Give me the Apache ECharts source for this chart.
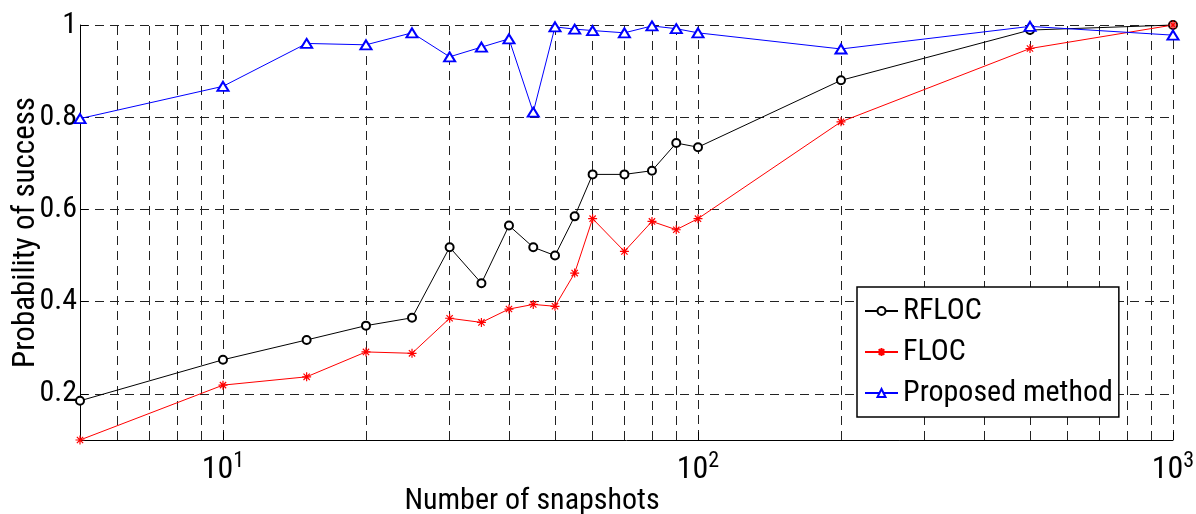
<!DOCTYPE html>
<html>
<head>
<meta charset="utf-8">
<script src="https://cdn.jsdelivr.net/npm/echarts@6/dist/echarts.min.js"></script>
<style>html,body{margin:0;padding:0;background:#fff;}#c{width:1196px;height:514px;}</style>
</head>
<body>
<div id="c"></div>
<script>
const snapshots = [5,10,15,20,25,30,35,40,45,50,55,60,70,80,90,100,200,500,1000];
const rfloc    = [0.185,0.274,0.317,0.348,0.365,0.518,0.440,0.565,0.518,0.500,0.585,0.676,0.676,0.684,0.744,0.735,0.880,0.989,1.0];
const floc     = [0.100,0.219,0.237,0.291,0.288,0.364,0.355,0.384,0.394,0.390,0.462,0.580,0.509,0.574,0.556,0.580,0.790,0.949,1.0];
const proposed = [0.797,0.867,0.960,0.957,0.983,0.931,0.952,0.970,0.811,0.996,0.991,0.988,0.983,0.998,0.992,0.983,0.948,0.997,0.978];
const xMajorTicks = [10,100,1000];
const xMinorGrid = [6,7,8,9,20,30,40,50,60,70,80,90,200,300,400,500,600,700,800,900];
const yTicks = [0.2,0.4,0.6,0.8,1];

const FONT = '"Roboto Condensed", "Open Sans Condensed", "Liberation Sans", Arial, sans-serif';
const gridDash = {color:'#222', width:1, type:[9,6]};
const asterisk = 'path://M0,-5L0,5M-5,0L5,0M-3.5,-3.5L3.5,3.5M-3.5,3.5L3.5,-3.5';

function pairs(ys){ return snapshots.map((x,i)=>[x, ys[i]]); }

// shift the x-axis title so that its centre sits at x=532 (as in the reference)
const xName = 'Number of snapshots';
const plotCenter = 80 + (1196 - 80 - 23) / 2;
const xNameShift = plotCenter - 532;

const chart = echarts.init(document.getElementById('c'), null, {renderer:'canvas'});
chart.setOption({
  animation:false,
  backgroundColor:'#fff',
  grid:{left:80, right:23, top:25, bottom:74, containLabel:false, outerBoundsMode:'none'},
  xAxis:{
    type:'log', logBase:10, min:5, max:1000,
    name:xName, nameLocation:'middle', nameGap:46, nameMoveOverlap:false,
    nameTextStyle:{fontFamily:FONT, fontSize:30, color:'#000', padding:[0, 2*xNameShift, 0, 0]},
    axisLine:{show:true, lineStyle:{color:'#000', width:1}},
    axisTick:{show:true, inside:true, length:8, customValues:xMajorTicks, lineStyle:{color:'#000'}},
    axisLabel:{
      customValues:xMajorTicks, margin:10, color:'#000',
      formatter:function(v){ const e=Math.round(Math.log10(v)); return '{b|10}{s|'+e+'}'; },
      rich:{
        b:{fontFamily:FONT, fontSize:32, color:'#000', lineHeight:36, verticalAlign:'bottom'},
        s:{fontFamily:FONT, fontSize:22, color:'#000', lineHeight:36, verticalAlign:'top'}
      }
    },
    splitLine:{show:true, lineStyle:gridDash},
    minorTick:{show:false}, minorSplitLine:{show:false}
  },
  yAxis:{
    type:'value', min:0.1, max:1,
    name:'Probability of success', nameLocation:'middle', nameGap:38, nameMoveOverlap:false,
    nameTextStyle:{fontFamily:FONT, fontSize:31, color:'#000'},
    axisLine:{show:true, lineStyle:{color:'#000', width:1}},
    axisTick:{show:true, inside:true, length:8, customValues:yTicks, lineStyle:{color:'#000'}},
    axisLabel:{customValues:yTicks, margin:3, fontFamily:FONT, fontSize:30, color:'#000',
      formatter:function(v){ return String(Math.round(v*10)/10); }},
    splitLine:{show:true, lineStyle:gridDash}
  },
  legend:{
    orient:'vertical', left:857, top:287,
    padding:[9,6,9,7], itemGap:11, itemWidth:33, itemHeight:10,
    backgroundColor:'#fff', borderColor:'#000', borderWidth:1.5, borderRadius:0,
    textStyle:{fontFamily:FONT, fontSize:30, color:'#000', lineHeight:30},
    data:['RFLOC','FLOC','Proposed method']
  },
  series:[
    {
      name:'RFLOC', type:'line', data:pairs(rfloc), clip:false,
      symbol:'emptyCircle', symbolSize:8, z:5,
      lineStyle:{color:'#000', width:1}, itemStyle:{color:'#000', borderColor:'#000', borderWidth:1},
      markLine:{
        silent:true, symbol:['none','none'], label:{show:false}, z:1,
        lineStyle:gridDash, emphasis:{disabled:true},
        data:xMinorGrid.map(v=>({xAxis:v}))
      }
    },
    {
      name:'FLOC', type:'line', data:pairs(floc), clip:false,
      symbol:asterisk, symbolSize:9, z:5,
      lineStyle:{color:'#ff0000', width:1}, itemStyle:{color:'#ff0000', borderColor:'#ff0000', borderWidth:1.2}
    },
    {
      name:'Proposed method', type:'line', data:pairs(proposed), clip:false,
      symbol:'emptyTriangle', symbolSize:[11,9], z:5,
      lineStyle:{color:'#0000ff', width:1}, itemStyle:{color:'#0000ff', borderColor:'#0000ff', borderWidth:1}
    }
  ]
});
</script>
</body>
</html>
